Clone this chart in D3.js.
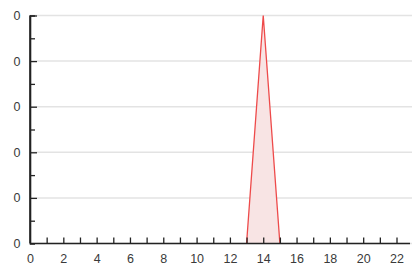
<!DOCTYPE html>
<html>
<head>
<meta charset="utf-8">
<script src="https://cdn.jsdelivr.net/npm/d3@7"></script>
<style>
  body { margin: 0; background: #fff; }
  text { font-family: "Liberation Sans", Arial, sans-serif; }
</style>
</head>
<body>
<svg></svg>
<script>
// data
let xValues = [0, 1, 2, 3, 4, 5, 6, 7, 8, 9, 10, 11, 12, 13, 14, 15, 16, 17, 18, 19, 20, 21, 22]
let yValues = [0, 0, 0, 0, 0, 0, 0, 0, 0, 0, 0, 0, 0, 0, 0.5, 0, 0, 0, 0, 0, 0, 0, 0]
let yTicks = [0, 0.1, 0.2, 0.3, 0.4, 0.5]
let xTicks = [0, 2, 4, 6, 8, 10, 12, 14, 16, 18, 20, 22]

let width = 412
let height = 269

let svg = d3.select('svg')
svg.attr('width', width).attr('height', height)

let values = xValues.map((x, i) => ({x: x, y: yValues[i]}))

let xScale = d3.scaleLinear().domain([0, 22.75]).range([30, 409])
let yScale = d3.scaleLinear().domain([0, 0.5]).range([243.5, 15.5])

// gridlines
svg.append('g')
    .selectAll('line')
    .data(yTicks)
    .enter()
    .append('line')
    .attr('x1', 30)
    .attr('x2', width)
    .attr('y1', d => yScale(d))
    .attr('y2', d => yScale(d))
    .attr('stroke', '#e3e3e3')
    .attr('stroke-width', 1.5)

// only draw the non-zero stretch so the baseline isn't painted red
let area = d3.area()
    .x(d => xScale(d.x))
    .y0(yScale(0))
    .y1(d => yScale(d.y))

let line = d3.line()
    .x(d => xScale(d.x))
    .y(d => yScale(d.y))

let peak = values.filter((d, i) => yValues[i] > 0 || (yValues[i - 1] > 0) || (yValues[i + 1] > 0))

svg.append('path')
    .datum(peak)
    .attr('d', area)
    .attr('fill', '#f8e4e4')

svg.append('path')
    .datum(peak)
    .attr('d', line)
    .attr('fill', 'none')
    .attr('stroke', '#ee4a4a')
    .attr('stroke-width', 1.3)

// y axis
let yAxis = d3.axisRight(yScale)
    .tickValues(yTicks)
    .tickSize(7)
    .tickFormat(d => Math.trunc(d))

let yMinor = d3.axisRight(yScale)
    .tickValues(yTicks.slice(1).map(d => d - 0.05))
    .tickSize(5)
    .tickFormat('')

let yg = svg.append('g')
    .attr('transform', 'translate(30,0)')
    .call(yAxis)
yg.selectAll('text').attr('x', -13).attr('text-anchor', 'middle')

svg.append('g')
    .attr('transform', 'translate(30,0)')
    .call(yMinor)

// x axis
let xAxis = d3.axisTop(xScale)
    .ticks(23)
    .tickValues(d3.range(0, 23))
    .tickSize(6)
    .tickFormat(d => (d % 2 == 0 ? d : ''))

let xg = svg.append('g')
    .attr('transform', 'translate(0,' + yScale(0) + ')')
    .call(xAxis)
xg.selectAll('text').attr('y', 11).attr('dy', '0.71em')

svg.selectAll('.domain').attr('stroke', '#222').attr('stroke-width', 1.6)
svg.selectAll('.tick line').attr('stroke', '#222').attr('stroke-width', 1.3)
svg.selectAll('.tick text').attr('fill', '#3a3a3a').attr('font-size', 12.5)
svg.selectAll('.tick').filter(d => d === 0).select('line').attr('stroke-opacity', 0)

// x domain should run right to the edge, y domain from top gridline down
xg.select('.domain').attr('d', 'M30,0H' + (width - 2))
yg.select('.domain').attr('d', 'M0,' + yScale(0) + 'V' + yScale(0.5))
</script>
</body>
</html>
